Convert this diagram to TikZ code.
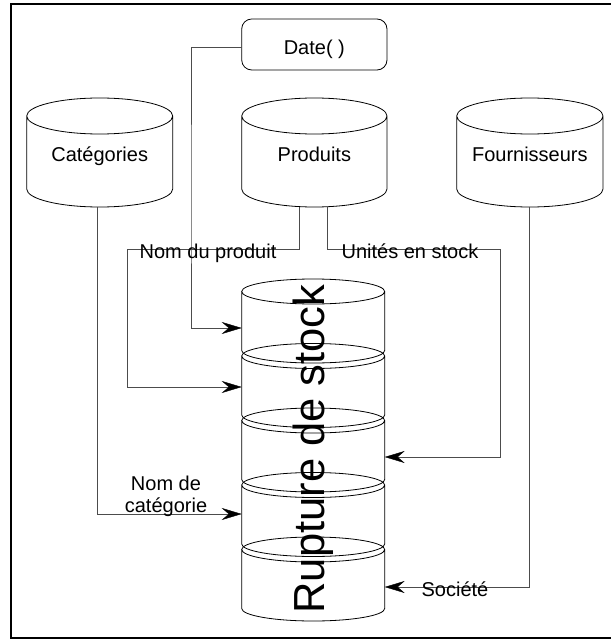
\documentclass[tikz,border=0pt]{standalone}
\usepackage{fontspec}
\setmainfont{Liberation Sans}
\usetikzlibrary{arrows.meta}
\newcommand\drawcyl[3]{%
  \draw[shp] ([yshift=-#3pt]#1.north west) -- ([yshift=#3pt]#1.south west)
    arc[start angle=180,end angle=360,x radius=#2pt,y radius=#3pt]
    -- ([yshift=-#3pt]#1.north east)
    arc[start angle=0,end angle=180,x radius=#2pt,y radius=#3pt]
    arc[start angle=180,end angle=360,x radius=#2pt,y radius=#3pt];}
\begin{document}
\begin{tikzpicture}[x=1pt,y=1pt,
  box/.style={inner sep=0pt,outer sep=0pt,font=\fontsize{20}{24}\selectfont},
  shp/.style={line width=0.8pt,draw=black},
  conn/.style={line width=0.8pt,draw=black!70},
  arr/.style={-{Stealth[length=20pt,width=12pt,inset=7pt,color=black,line width=0.4pt]}},
  lbl/.style={font=\fontsize{20}{22.5}\selectfont,inner sep=0pt,outer sep=0pt}]
\useasboundingbox (0,0) rectangle (610,-639);
% frame
\draw[line width=2pt] (615,-4) -- (10.7,-4) -- (10.7,-637.5) -- (615,-637.5);
% top row
\node[box,rounded corners=10pt,draw,line width=0.8pt,minimum width=145.3pt,minimum height=51pt,text height=21pt,text depth=0pt] (date) at (314.35,-44.5) {Date( )};
\node[box,minimum width=146pt,minimum height=109pt,text height=19pt,text depth=0pt] (cat) at (99.7,-152.5) {Catégories};
\node[box,minimum width=145.3pt,minimum height=109pt,text height=19pt,text depth=0pt] (prod) at (314.35,-152.5) {Produits};
\node[box,minimum width=146.3pt,minimum height=109pt,text height=19pt,text depth=0pt] (four) at (529.85,-152.5) {Fournisseurs};
\drawcyl{cat}{73}{18}
\drawcyl{prod}{72.65}{18}
\drawcyl{four}{73.15}{18}
% stack
\node[box,minimum width=143pt,minimum height=84pt] (s1) at (313.2,-321) {};
\node[box,minimum width=143pt,minimum height=84pt] (s2) at (313.2,-385.5) {};
\node[box,minimum width=143pt,minimum height=84pt] (s3) at (313.2,-450) {};
\node[box,minimum width=143pt,minimum height=84pt] (s4) at (313.2,-514.5) {};
\node[box,minimum width=143pt,minimum height=84pt] (s5) at (313.2,-579) {};
\drawcyl{s1}{71.5}{12.5}
\drawcyl{s2}{71.5}{12.5}
\drawcyl{s3}{71.5}{12.5}
\drawcyl{s4}{71.5}{12.5}
\drawcyl{s5}{71.5}{12.5}
% bend points
\coordinate (dj) at (191,-200);
\coordinate (nj) at (127,-249);
\coordinate (uj) at (500.7,-249);
% connectors
\draw[conn,arr] ([yshift=-3pt]date.west) -| (dj) |- ([yshift=-7pt]s1.west);
\draw[conn,arr] ([xshift=-15pt]prod.south) |- (nj) |- ([yshift=-1.5pt]s2.west);
\draw[conn,arr] ([xshift=13.5pt]prod.south) |- (uj) |- ([yshift=-7pt]s3.east);
\draw[conn,arr] ([xshift=-2pt]cat.south) |- ([yshift=0.5pt]s4.west);
\draw[conn,arr] ([xshift=-0.8pt]four.south) |- ([yshift=-8pt]s5.east);
% labels
\node[lbl,anchor=base] (lnp) at (208,-258) {Nom du produit};
\node[lbl,anchor=base] (lus) at (410,-258) {Unités en stock};
\node[lbl,anchor=base,align=center] (lnc) at (166,-512.5) {Nom de\\catégorie};
\node[lbl,anchor=base] (lso) at (455,-596) {Société};
% rotated title
\node[lbl,rotate=90,anchor=base,font=\fontsize{43.5}{50}\selectfont] (rt) at (324,-449) {Rupture de stock};
\end{tikzpicture}
\end{document}
